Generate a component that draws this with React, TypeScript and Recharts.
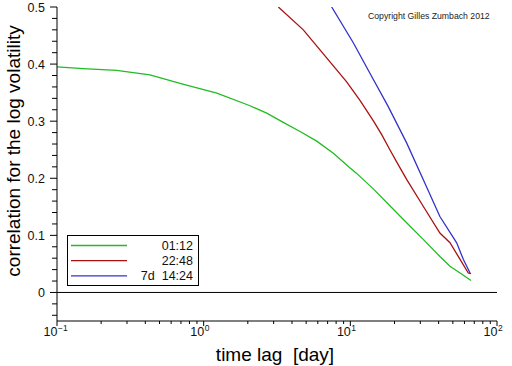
import React from 'react';
import { LineChart, Line, XAxis, YAxis, ReferenceLine } from 'recharts';

// time lag in days (x) and correlation (y) for each series
const greenLag = [0.1, 0.151, 0.255, 0.43, 0.72, 1.23, 2.07, 2.69, 3.49, 4.54, 5.9, 7.66, 9.96, 11.0, 14.4, 18.6, 24.2, 31.4, 40.8, 47.8, 56, 66.5];
const greenCorr = [0.395, 0.392, 0.389, 0.381, 0.365, 0.349, 0.327, 0.314, 0.298, 0.282, 0.265, 0.244, 0.218, 0.209, 0.181, 0.152, 0.122, 0.093, 0.063, 0.046, 0.034, 0.021];

const redLag = [3.23, 4.78, 6.21, 8.07, 9.44, 11.6, 14.4, 16.4, 18.6, 21.2, 24.2, 31.4, 40.8, 47.8, 56, 63.7, 66.5];
const redCorr = [0.5, 0.46, 0.425, 0.39, 0.369, 0.337, 0.3, 0.276, 0.25, 0.224, 0.198, 0.151, 0.104, 0.087, 0.058, 0.034, 0.033];

const blueLag = [7.46, 10.5, 13.6, 18.1, 24.2, 31.4, 40.8, 53.1, 58.9, 65.5];
const blueCorr = [0.5, 0.437, 0.384, 0.326, 0.262, 0.198, 0.133, 0.087, 0.058, 0.034];

const seriesNames = ['01:12', '22:48', '7d  14:24'];
const seriesColors = ['#22bb22', '#aa1111', '#3333cc'];

const xTicks = [
  0.1, 0.2, 0.3, 0.4, 0.5, 0.6, 0.7, 0.8, 0.9,
  1, 2, 3, 4, 5, 6, 7, 8, 9,
  10, 20, 30, 40, 50, 60, 70, 80, 90, 100,
];
const yTicks = Array.from({ length: 28 }, (_, i) => Math.round((0.5 - i * 0.02) * 100) / 100);

const toData = (lags: number[], vals: number[]) => lags.map((lag, i) => ({ lag, corr: vals[i] }));
const seriesData = [toData(greenLag, greenCorr), toData(redLag, redCorr), toData(blueLag, blueCorr)];

const FONT = '"Liberation Sans", Arial, sans-serif';

const XTick = (props: any) => {
  const { x, y, payload } = props;
  const v = payload.value as number;
  const lg = Math.log10(v);
  const exp = Math.round(lg);
  const isMajor = Math.abs(lg - exp) < 1e-6;
  return (
    <g>
      <line x1={x} x2={x} y1={y} y2={y + (isMajor ? 5 : 3)} stroke="#000" strokeWidth={1} />
      {isMajor && (
        <g fontFamily={FONT} fill="#111">
          <text x={x + 0.5} y={y + 15} fontSize={12.5} textAnchor="end">10</text>
          <text x={x + 1} y={y + 10} fontSize={8.5} textAnchor="start">{String(exp).replace('-', '\u2212')}</text>
        </g>
      )}
    </g>
  );
};

const YTick = (props: any) => {
  const { x, y, payload } = props;
  const v = payload.value as number;
  const isMajor = Math.abs(v * 10 - Math.round(v * 10)) < 1e-6;
  return (
    <g>
      <line x1={x} x2={x - (isMajor ? 7 : 5)} y1={y} y2={y} stroke="#000" strokeWidth={1} />
      {isMajor && (
        <text x={x - 12} y={y + 4.5} fontSize={12.5} textAnchor="end" fontFamily={FONT} fill="#111">
          {String(Math.round(v * 10) / 10)}
        </text>
      )}
    </g>
  );
};

export default function App() {
  return (
    <div style={{ position: 'absolute', left: 0, top: 0, width: 512, height: 366, background: '#fff' }}>
      <LineChart width={512} height={366} margin={{ top: 7, right: 15, bottom: 0, left: 0 }}>
        <XAxis
          type="number"
          dataKey="lag"
          scale="log"
          domain={[0.1, 100]}
          ticks={xTicks}
          interval={0}
          allowDataOverflow
          height={45}
          tickSize={0}
          tickMargin={0}
          tickLine={false}
          axisLine={{ stroke: '#000', strokeWidth: 1 }}
          tick={<XTick />}
          label={(p: any) => (
            <text
              x={275}
              y={361}
              textAnchor="middle"
              fontSize={19}
              fontFamily={FONT}
              fill="#000"
              style={{ whiteSpace: 'pre' }}
            >
              {'time lag  [day]'}
            </text>
          )}
        />
        <YAxis
          type="number"
          dataKey="corr"
          domain={[-0.05, 0.5]}
          ticks={yTicks}
          interval={0}
          allowDataOverflow
          width={57}
          tickSize={0}
          tickMargin={0}
          tickLine={false}
          axisLine={{ stroke: '#000', strokeWidth: 1 }}
          tick={<YTick />}
          label={(p: any) => (
            <text
              x={20}
              y={151}
              transform="rotate(-90 20 151)"
              textAnchor="middle"
              fontSize={19}
              fontFamily={FONT}
              fill="#000"
            >
              correlation for the log volatility
            </text>
          )}
        />
        <ReferenceLine y={0} stroke="#000" strokeWidth={1} />
        {seriesData.map((d, i) => (
          <Line
            key={seriesNames[i]}
            data={d}
            dataKey="corr"
            name={seriesNames[i]}
            type="linear"
            stroke={seriesColors[i]}
            strokeWidth={1.3}
            dot={false}
            isAnimationActive={false}
          />
        ))}
      </LineChart>
      <svg
        width={512}
        height={366}
        style={{ position: 'absolute', left: 0, top: 0, pointerEvents: 'none' }}
        fontFamily={FONT}
      >
        <text x={368} y={19} fontSize={8.7} fill="#222">Copyright Gilles Zumbach 2012</text>
        <rect x={67.5} y={235.5} width={131} height={50} fill="#fff" stroke="#000" strokeWidth={1} />
        {seriesNames.map((n, i) => {
          const ly = 245.5 + i * 15.2;
          return (
            <g key={n}>
              <line x1={71} x2={127} y1={ly} y2={ly} stroke={seriesColors[i]} strokeWidth={1.3} />
              <text x={193} y={ly + 4} fontSize={12.5} textAnchor="end" fill="#111" style={{ whiteSpace: 'pre' }}>
                {n}
              </text>
            </g>
          );
        })}
      </svg>
    </div>
  );
}
